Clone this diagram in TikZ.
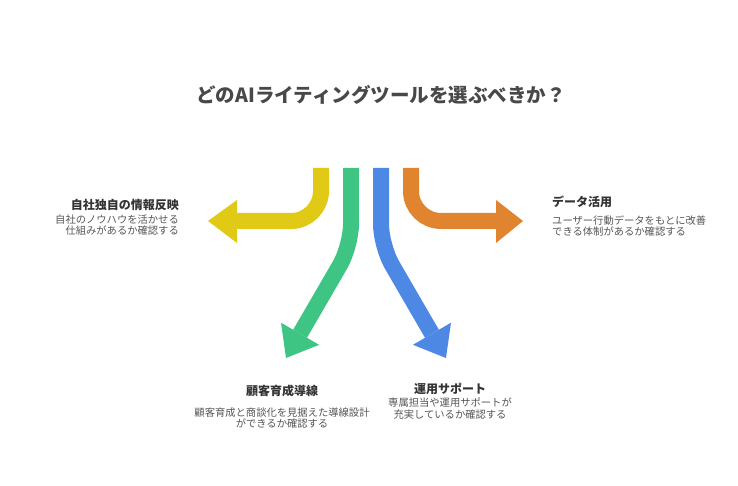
\documentclass[tikz,border=0pt]{standalone}
\usepackage{fontspec}
\setmainfont{Noto Sans CJK JP}
\usetikzlibrary{calc}
\definecolor{cyel}{HTML}{E0CA16}
\definecolor{cgrn}{HTML}{3EC483}
\definecolor{cblu}{HTML}{4D88E4}
\definecolor{corg}{HTML}{E08430}
\definecolor{ttl}{HTML}{484848}
\definecolor{hd}{HTML}{333333}
\definecolor{ds}{HTML}{555555}
\begin{document}
\begin{tikzpicture}[x=1pt,y=1pt,
  shaft/.style={line width=16pt},
  title/.style={font=\fontsize{19.5}{23}\selectfont\bfseries,text=ttl,inner sep=0},
  head/.style={font=\fontsize{12}{14}\selectfont\bfseries,text=hd,inner sep=0},
  desc/.style={font=\fontsize{10.3}{11.6}\selectfont,text=ds,inner sep=0}]
\useasboundingbox (0,0) rectangle (738,486);
% title
\node[title] (t) at (381,391) {どのAIライティングツールを選ぶべきか？};
% yellow arrow (left)
\coordinate (ys) at (321,318);
\coordinate (yc) at (321,265);
\coordinate (yb) at (237,265);
\coordinate (yt) at (208,265);
\draw[shaft,cyel,rounded corners=30pt] (ys) -- (yc) -- (yb);
\fill[cyel] (237,286) -- (yt) -- (237,243) -- cycle;
% orange arrow (right)
\coordinate (os) at (411,318);
\coordinate (oc) at (411,265);
\coordinate (ob) at (496,265);
\coordinate (ot) at (523,265);
\draw[shaft,corg,rounded corners=30pt] (os) -- (oc) -- (ob);
\fill[corg] (496,286) -- (ot) -- (496,243) -- cycle;
% green arrow
\coordinate (gs) at (351,318);
\coordinate (gc) at (351,240);
\coordinate (gt) at (286,128);
\coordinate (gb) at ($(gt)!28pt!(gc)$);
\draw[shaft,cgrn,rounded corners=22pt] (gs) -- (gc) -- (gb);
\fill[cgrn] ($(gb)!22pt!90:(gt)$) -- (gt) -- ($(gb)!22pt!-90:(gt)$) -- cycle;
% blue arrow
\coordinate (bs) at (381,318);
\coordinate (bc) at (381,240);
\coordinate (bt) at (446,128);
\coordinate (bb) at ($(bt)!28pt!(bc)$);
\draw[shaft,cblu,rounded corners=22pt] (bs) -- (bc) -- (bb);
\fill[cblu] ($(bb)!22pt!90:(bt)$) -- (bt) -- ($(bb)!22pt!-90:(bt)$) -- cycle;
% labels
\node[head,anchor=east] (lh) at (179,281) {自社独自の情報反映};
\node[desc,anchor=east,align=right] (ld) at (179,261) {自社のノウハウを活かせる\\仕組みがあるか確認する};
\node[head,anchor=west] (rh) at (552,284) {データ活用};
\node[desc,anchor=west,align=left] (rd) at (552,260) {ユーザー行動データをもとに改善\\できる体制があるか確認する};
\node[head] (gh) at (282,95) {顧客育成導線};
\node[desc,align=center] (gd) at (282,68) {顧客育成と商談化を見据えた導線設計\\ができるか確認する};
\node[head] (bh) at (450,97) {運用サポート};
\node[desc,align=center] (bd) at (450,77.5) {専属担当や運用サポートが\\充実しているか確認する};
\end{tikzpicture}
\end{document}
